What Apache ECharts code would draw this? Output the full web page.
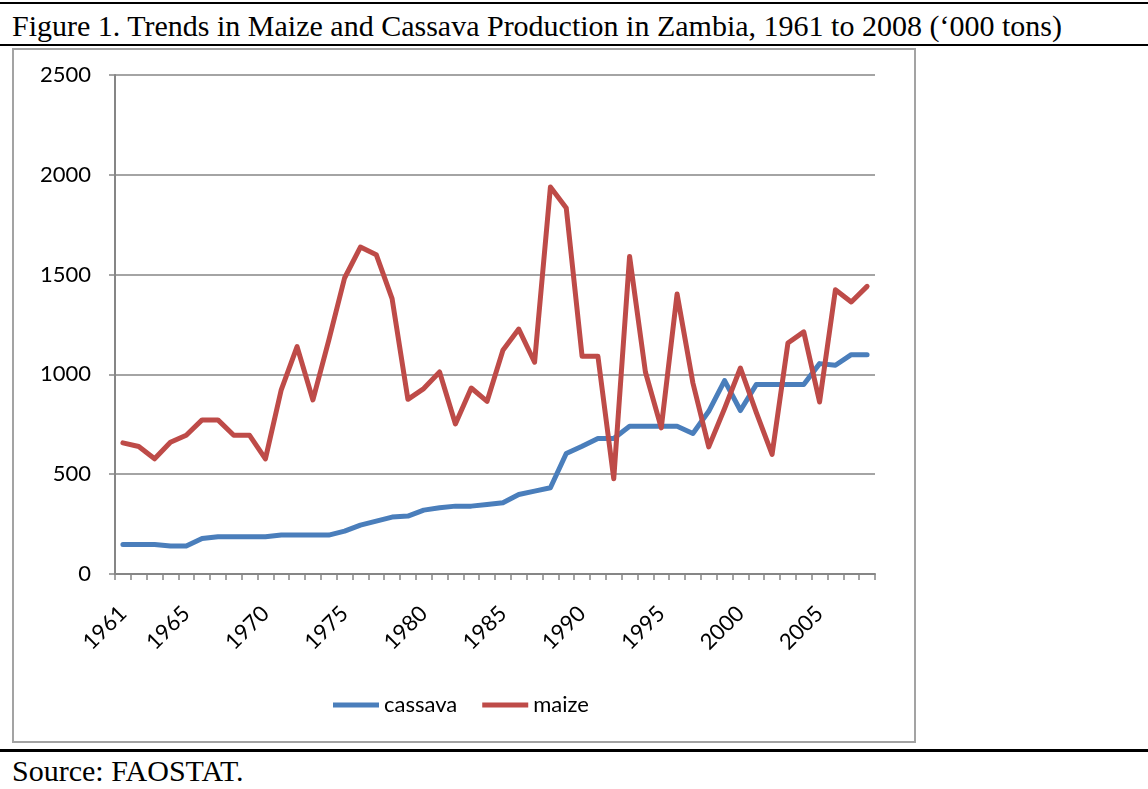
<!DOCTYPE html>
<html>
<head>
<meta charset="utf-8">
<script src="https://cdn.jsdelivr.net/npm/echarts@6/dist/echarts.min.js"></script>
<style>
  html, body { margin: 0; padding: 0; background: #ffffff; }
  body { width: 1148px; height: 789px; position: relative; overflow: hidden; }
  .rule { position: absolute; left: 0; width: 1148px; background: #000; }
  .serif { position: absolute; font-family: "Liberation Serif", "Times New Roman", serif; color: #000; white-space: nowrap; line-height: 1; }
  #box { position: absolute; left: 12px; top: 48px; width: 904px; height: 695px; box-sizing: border-box; border: 2px solid #a3a3a3; }
  #chart { position: absolute; left: 0; top: 0; width: 1148px; height: 789px; }
</style>
</head>
<body>
<div class="rule" style="top:2px;height:2px;"></div>
<div class="serif" id="title" style="left:12px;top:11px;font-size:30px;">Figure 1. Trends in Maize and Cassava Production in Zambia, 1961 to 2008 (‘000 tons)</div>
<div class="rule" style="top:44px;height:2px;"></div>
<div id="box"></div>
<div class="rule" style="top:749px;height:3px;"></div>
<div class="serif" id="source" style="left:12px;top:756px;font-size:30px;">Source: FAOSTAT.</div>
<div id="chart"></div>
<script>
const years = [];
for (let y = 1961; y <= 2008; y++) years.push(String(y));

const cassava = [148,148,148,140,140,178,187,187,187,187,195,195,195,195,215,245,265,285,
  290,320,332,340,340,348,357,398,415,432,604,640,679,679,740,
  740,740,740,704,815,969,819,949,949,949,949,1054,1046,1099,1099];

const maize = [657,639,577,660,695,772,772,695,695,577,923,1139,872,1170,1483,1638,1600,1380,
  875,929,1012,752,932,865,1121,1227,1061,1939,1834,1091,1091,477,1591,
  1012,732,1403,957,637,829,1032,810,599,1157,1213,862,1424,1363,1441];

const yTicks = [0, 500, 1000, 1500, 2000, 2500];

const chart = echarts.init(document.getElementById('chart'), null, { renderer: 'canvas' });
const axisGray = '#868686';
const font = 'Lato, "Noto Sans", sans-serif';

chart.setOption({
  animation: false,
  backgroundColor: 'transparent',
  grid: { left: 115, top: 75, width: 760, height: 499, containLabel: false },
  legend: {
    left: 328, top: 689,
    itemWidth: 46, itemHeight: 14, itemGap: 25,
    textStyle: { fontFamily: font, fontSize: 22, color: '#000' },
    data: [
      { name: 'cassava', icon: 'path://M0,0 L46,0 L46,5 L0,5 Z' },
      { name: 'maize', icon: 'path://M0,0 L46,0 L46,5 L0,5 Z' }
    ]
  },
  xAxis: {
    type: 'category',
    data: years,
    boundaryGap: true,
    axisLine: { lineStyle: { color: axisGray, width: 2 } },
    axisTick: { show: true, interval: 0, length: 6, lineStyle: { color: axisGray, width: 1.5 } },
    axisLabel: {
      interval: (idx, val) => idx === 0 || Number(val) % 5 === 0,
      rotate: 45, margin: 36,
      fontFamily: font, fontSize: 22, color: '#000'
    },
    splitLine: { show: false }
  },
  yAxis: {
    type: 'value',
    min: yTicks[0], max: yTicks[yTicks.length - 1], interval: 500,
    axisLine: { show: true, lineStyle: { color: axisGray, width: 2 } },
    axisTick: { show: true, length: 6, lineStyle: { color: axisGray, width: 1.5 } },
    axisLabel: { margin: 24, fontFamily: font, fontSize: 22, color: '#000', formatter: v => String(v) },
    splitLine: { show: true, lineStyle: { color: axisGray, width: 1.5 } }
  },
  series: [
    {
      name: 'cassava', type: 'line', data: cassava, showSymbol: false, symbol: 'none',
      itemStyle: { color: '#4A7EBB' },
      lineStyle: { color: '#4A7EBB', width: 5, cap: 'round', join: 'round' }
    },
    {
      name: 'maize', type: 'line', data: maize, showSymbol: false, symbol: 'none',
      itemStyle: { color: '#BE4B48' },
      lineStyle: { color: '#BE4B48', width: 5, cap: 'round', join: 'round' }
    }
  ]
});
</script>
</body>
</html>
